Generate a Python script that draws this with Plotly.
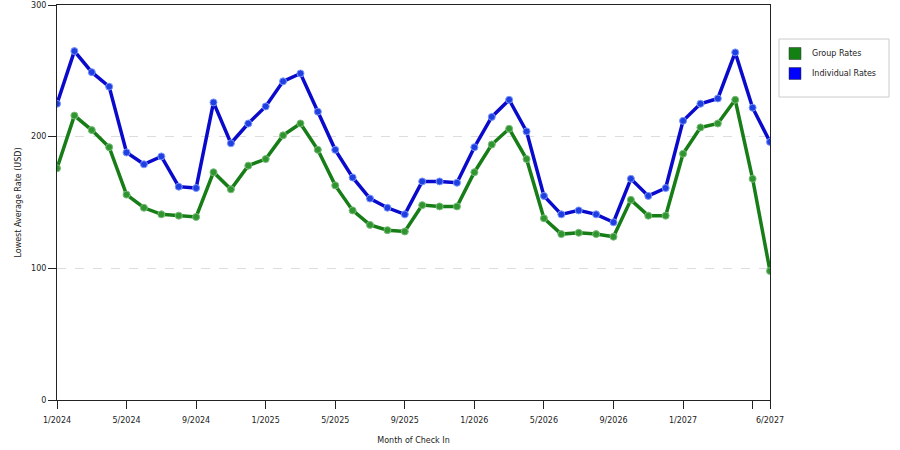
import plotly.graph_objects as go

# Month labels 1/2024 .. 6/2027
months = [f"{m}/{y}" for y in range(2024, 2028) for m in range(1, 13)][:42]

group_rates = [176, 216, 205, 192, 156, 146, 141, 140, 139, 173, 160, 178,
               183, 201, 210, 190, 163, 144, 133, 129, 128, 148, 147, 147,
               173, 194, 206, 183, 138, 126, 127, 126, 124, 152, 140, 140,
               187, 207, 210, 228, 168, 98]
individual_rates = [225, 265, 249, 238, 188, 179, 185, 162, 161, 226, 195, 210,
                    223, 242, 248, 219, 190, 169, 153, 146, 141, 166, 166, 165,
                    192, 215, 228, 204, 155, 141, 144, 141, 135, 168, 155, 161,
                    212, 225, 229, 264, 222, 196]

tick_months = ["1/2024", "5/2024", "9/2024", "1/2025", "5/2025", "9/2025", "1/2026",
               "5/2026", "9/2026", "1/2027", "5/2027", "6/2027"]
tick_text = [t if t != "5/2027" else "" for t in tick_months]

series_names = ["Group Rates", "Individual Rates"]
swatch_colors = ["#128012", "#0000ff"]

W, H = 900, 450
L, R, T, B = 57, 130, 5, 50
pw, ph = W - L - R, H - T - B


def px(x):
    return (x - L) / pw


def py(y):
    return (H - B - y) / ph


fig = go.Figure()

fig.add_trace(go.Scatter(x=months, y=group_rates, mode="lines+markers", name=series_names[0],
                         line=dict(color="#177d17", width=3.5),
                         marker=dict(size=7, color="#2f962f", line=dict(color="#7abb7a", width=1))))
fig.add_trace(go.Scatter(x=months, y=individual_rates, mode="lines+markers", name=series_names[1],
                         line=dict(color="#0a0acc", width=3.5),
                         marker=dict(size=7, color="#1f3fe0", line=dict(color="#7a96ff", width=1))))

# hand-drawn legend box with square swatches
shapes = [dict(type="rect", xref="paper", yref="paper",
               x0=px(779), x1=px(889), y0=py(97), y1=py(39),
               line=dict(color="#cccccc", width=1), fillcolor="white")]
annotations = []
for i, (name, col) in enumerate(zip(series_names, swatch_colors)):
    yc = 53.5 + i * 20
    shapes.append(dict(type="rect", xref="paper", yref="paper",
                       x0=px(789), x1=px(801), y0=py(yc + 6), y1=py(yc - 6),
                       line=dict(color="#333333", width=0.5), fillcolor=col))
    annotations.append(dict(xref="paper", yref="paper", x=px(810), y=py(yc),
                            xanchor="left", yanchor="middle", showarrow=False,
                            text=name, font=dict(size=8)))

fig.update_layout(
    width=W, height=H,
    margin=dict(l=L, r=R, t=T, b=B),
    plot_bgcolor="white", paper_bgcolor="white",
    font=dict(family="DejaVu Sans", size=8, color="#222222"),
    showlegend=False,
    shapes=shapes, annotations=annotations,
)
fig.update_xaxes(
    type="category", range=[0, 41], automargin=False,
    tickvals=tick_months, ticktext=tick_text,
    ticks="outside", ticklen=8, tickcolor="#222222", ticklabelstandoff=4,
    showline=True, linecolor="#222222", linewidth=1, mirror=True,
    showgrid=False, zeroline=False,
    title=dict(text="Month of Check In", font=dict(size=8), standoff=13),
)
fig.update_yaxes(
    range=[0, 300], tickvals=[0, 100, 200, 300], automargin=False,
    ticks="outside", ticklen=8, tickcolor="#222222",
    showline=True, linecolor="#222222", linewidth=1, mirror=True,
    showgrid=True, gridcolor="#dddddd", griddash="dash", zeroline=False,
    title=dict(text="Lowest Average Rate (USD)", font=dict(size=8), standoff=8),
)

# drop the page's default body margin so the figure sits at the window corner
fig.write_html("out.html", config={"displayModeBar": False},
               post_script="document.body.style.margin='0px';")
